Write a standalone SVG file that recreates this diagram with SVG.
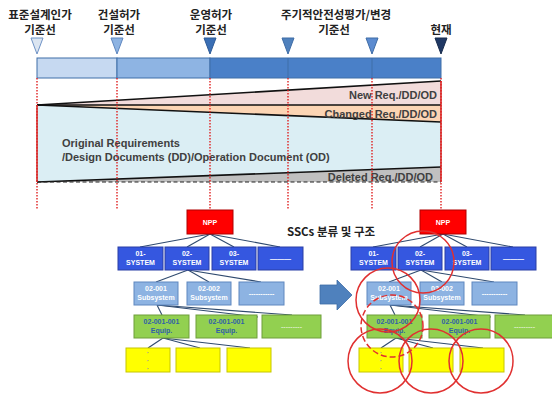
<svg xmlns="http://www.w3.org/2000/svg" width="552" height="396" viewBox="0 0 552 396">
<style>
.kt{font-family:"Noto Sans CJK KR","Noto Sans",sans-serif;font-weight:bold;font-size:11.5px;fill:#222;text-anchor:middle}
.wt{font-family:"Liberation Sans",Arial,sans-serif;font-weight:bold;font-size:11px;fill:#404040}
.r{text-anchor:end}
.dot{stroke:#e02020;stroke-width:1.4;stroke-dasharray:1.6 1.4;fill:none}
.bl{stroke:#111;stroke-width:1.6;fill:none}
.sys rect{fill:#3557e0;stroke:#2a3fa5;stroke-width:1}
.sub rect{fill:#8db3e2;stroke:#5f87bf;stroke-width:1}
.eq rect{fill:#92d050;stroke:#6e9e3a;stroke-width:1}
.yl rect{fill:#ffff00;stroke:#c6c600;stroke-width:1}
.npp rect{fill:#ff0000;stroke:#b00000;stroke-width:1}
.bt{font-family:"Liberation Sans",Arial,sans-serif;font-size:7px;fill:#fff;text-anchor:middle;font-weight:bold}
.gt{font-family:"Liberation Sans",Arial,sans-serif;font-size:7px;fill:#2f5fa8;text-anchor:middle;font-weight:bold}
.con line{stroke:#2f4a6e;stroke-width:1.1}
.circ{fill:none;stroke:#e03030;stroke-width:1.5}
</style>

<!-- timeline labels -->
<g id="labels">
<text class="kt" x="40" y="19">표준설계인가</text><text class="kt" x="40" y="34">기준선</text>
<text class="kt" x="119" y="19">건설허가</text><text class="kt" x="119" y="34">기준선</text>
<text class="kt" x="211" y="19">운영허가</text><text class="kt" x="211" y="34">기준선</text>
<text class="kt" x="336" y="19">주기적안전성평가/변경</text><text class="kt" x="334" y="34">기준선</text>
<text class="kt" x="441" y="34">현재</text>
</g>

<!-- markers -->
<g id="markers" stroke-width="1">
<polygon points="31,38 43,38 37,54" fill="#dbe5f1" stroke="#6f93c6"/>
<polygon points="111,38 123,38 117,54" fill="#8db3e2" stroke="#5f87bf"/>
<polygon points="204,38 216,38 210,54" fill="#3a6fb5" stroke="#2d5a96"/>
<polygon points="282,38 294,38 288,54" fill="#4f81bd" stroke="#3e6ca6"/>
<polygon points="366,38 378,38 372,54" fill="#5b8bd0" stroke="#3e6ca6"/>
<polygon points="435,38 447,38 441,54" fill="#1f3864" stroke="#172a4b"/>
</g>

<!-- timeline bar -->
<g id="bar" stroke="#3f6ea8" stroke-width="1">
<rect x="37" y="58" width="80" height="20" fill="#c6d9f1"/>
<rect x="117" y="58" width="93" height="20" fill="#8eb4e3"/>
<rect x="210" y="58" width="231" height="20" fill="#4a80c8"/>
<line x1="288" y1="58" x2="288" y2="78"/>
<line x1="372" y1="58" x2="372" y2="78"/>
</g>

<!-- wedge chart -->
<g id="wedge">
<polygon points="37,182 37,105 441,122 441,167" fill="#dbeef4"/>
<polygon points="37,105 441,81 441,105" fill="#f2dcdb"/>
<polygon points="37,105 441,105 441,122" fill="#fcd5b4"/>
<polygon points="37,182 441,167 441,182" fill="#c0c0c0"/>
<line class="bl" x1="37" y1="105" x2="441" y2="81"/>
<line class="bl" x1="37" y1="105" x2="441" y2="105"/>
<line class="bl" x1="37" y1="105" x2="441" y2="122"/>
<line class="bl" x1="37" y1="182" x2="441" y2="167"/>
<line x1="37" y1="182" x2="441" y2="182" stroke="#222" stroke-width="1.2" stroke-dasharray="4 2.5"/>
<line x1="37" y1="105" x2="37" y2="182" stroke="#d02020" stroke-width="1.5"/>
<line x1="441" y1="81" x2="441" y2="182" stroke="#d02020" stroke-width="1.5"/>
<text class="wt r" x="437" y="99">New Req./DD/OD</text>
<text class="wt r" x="437" y="118">Changed Req./DD/OD</text>
<text class="wt" x="62" y="147">Original Requirements</text>
<text class="wt" x="62" y="161">/Design Documents (DD)/Operation Document (OD)</text>
<text class="wt r" x="433" y="181">Deleted Req./DD/OD</text>
</g>

<!-- dotted guide lines -->
<g id="guides">
<line class="dot" x1="37" y1="78" x2="37" y2="210"/>
<line class="dot" x1="117" y1="78" x2="117" y2="210"/>
<line class="dot" x1="210" y1="78" x2="210" y2="210"/>
<line class="dot" x1="288" y1="78" x2="288" y2="210"/>
<line class="dot" x1="372" y1="78" x2="372" y2="210"/>
<line class="dot" x1="441" y1="78" x2="441" y2="210"/>
</g>

<text id="ssc-title" class="kt" x="331" y="236">SSCs 분류 및 구조</text>

<!-- connectors -->
<g id="connectors" class="con">
<line x1="210" y1="234" x2="140" y2="247"/>
<line x1="210" y1="234" x2="187" y2="247"/>
<line x1="210" y1="234" x2="234" y2="247"/>
<line x1="210" y1="234" x2="280" y2="247"/>
<line x1="188" y1="270" x2="156" y2="282"/>
<line x1="188" y1="270" x2="209" y2="282"/>
<line x1="188" y1="270" x2="261" y2="282"/>
<line x1="157" y1="305" x2="162" y2="315"/>
<line x1="157" y1="305" x2="258" y2="317"/>
<line x1="157" y1="305" x2="292" y2="315"/>
<line x1="163" y1="338" x2="148" y2="348"/>
<line x1="163" y1="338" x2="200" y2="348"/>
<line x1="163" y1="338" x2="250" y2="348"/>
<line x1="443" y1="234" x2="373" y2="247"/>
<line x1="443" y1="234" x2="420" y2="247"/>
<line x1="443" y1="234" x2="467" y2="247"/>
<line x1="443" y1="234" x2="513" y2="247"/>
<line x1="421" y1="270" x2="389" y2="282"/>
<line x1="421" y1="270" x2="442" y2="282"/>
<line x1="421" y1="270" x2="494" y2="282"/>
<line x1="390" y1="305" x2="395" y2="315"/>
<line x1="390" y1="305" x2="491" y2="317"/>
<line x1="390" y1="305" x2="525" y2="315"/>
<line x1="396" y1="338" x2="381" y2="348"/>
<line x1="396" y1="338" x2="433" y2="348"/>
<line x1="396" y1="338" x2="483" y2="348"/>
</g>

<!-- left tree nodes -->
<g id="L-npp" class="npp"><rect x="187" y="210" width="46" height="24"/><text class="bt" x="210" y="225">NPP</text></g>
<g id="L-sys01" class="sys"><rect x="118" y="247" width="45" height="23"/><text class="bt" x="140.5" y="256">01-</text><text class="bt" x="140.5" y="265">SYSTEM</text></g>
<g id="L-sys02" class="sys"><rect x="165" y="247" width="44" height="23"/><text class="bt" x="187" y="256">02-</text><text class="bt" x="187" y="265">SYSTEM</text></g>
<g id="L-sys03" class="sys"><rect x="212" y="247" width="44" height="23"/><text class="bt" x="234" y="256">03-</text><text class="bt" x="234" y="265">SYSTEM</text></g>
<g id="L-sys04" class="sys"><rect x="258" y="247" width="45" height="23"/><text class="bt" x="280.5" y="261">———</text></g>
<g id="L-sub01" class="sub"><rect x="134" y="282" width="44" height="23"/><text class="bt" x="156" y="291">02-001</text><text class="bt" x="156" y="300">Subsystem</text></g>
<g id="L-sub02" class="sub"><rect x="187" y="282" width="44" height="23"/><text class="bt" x="209" y="291">02-002</text><text class="bt" x="209" y="300">Subsystem</text></g>
<g id="L-sub03" class="sub"><rect x="239" y="282" width="45" height="23"/><text class="bt" x="261.5" y="296">-----------</text></g>
<g id="L-eq01" class="eq"><rect x="134" y="315" width="55" height="23"/><text class="gt" x="161.5" y="324">02-001-001</text><text class="gt" x="161.5" y="333">Equip.</text></g>
<g id="L-eq02" class="eq"><rect x="196" y="315" width="61" height="23"/><text class="gt" x="226.5" y="324">02-001-001</text><text class="gt" x="226.5" y="333">Equip.</text></g>
<g id="L-eq03" class="eq"><rect x="262" y="315" width="59" height="23"/><text class="bt" x="291.5" y="329" style="fill:#d8ecc0">---------</text></g>
<g id="L-y01" class="yl"><rect x="126" y="348" width="44" height="24"/><text class="bt" x="148" y="355" style="fill:#999">·</text><text class="bt" x="148" y="363" style="fill:#999">·</text><text class="bt" x="148" y="371" style="fill:#999">·</text></g>
<g id="L-y02" class="yl"><rect x="176" y="348" width="44" height="24"/></g>
<g id="L-y03" class="yl"><rect x="227" y="348" width="44" height="24"/></g>

<!-- arrow -->
<g id="arrow"><polygon points="320,285 337,285 337,280 352,295 337,310 337,304 320,304" fill="#4f81bd" stroke="#3e6ca6" stroke-width="0.8"/></g>

<!-- right tree nodes -->
<g id="R-npp" class="npp"><rect x="420" y="210" width="46" height="24"/><text class="bt" x="443" y="225">NPP</text></g>
<g id="R-sys01" class="sys"><rect x="351" y="247" width="45" height="23"/><text class="bt" x="373.5" y="256">01-</text><text class="bt" x="373.5" y="265">SYSTEM</text></g>
<g id="R-sys02" class="sys"><rect x="398" y="247" width="44" height="23"/><text class="bt" x="420" y="256">02-</text><text class="bt" x="420" y="265">SYSTEM</text></g>
<g id="R-sys03" class="sys"><rect x="445" y="247" width="44" height="23"/><text class="bt" x="467" y="256">03-</text><text class="bt" x="467" y="265">SYSTEM</text></g>
<g id="R-sys04" class="sys"><rect x="491" y="247" width="45" height="23"/><text class="bt" x="513.5" y="261">———</text></g>
<g id="R-sub01" class="sub"><rect x="367" y="282" width="44" height="23"/><text class="bt" x="389" y="291">02-001</text><text class="bt" x="389" y="300">Subsystem</text></g>
<g id="R-sub02" class="sub"><rect x="420" y="282" width="44" height="23"/><text class="bt" x="442" y="291">02-002</text><text class="bt" x="442" y="300">Subsystem</text></g>
<g id="R-sub03" class="sub"><rect x="472" y="282" width="45" height="23"/><text class="bt" x="494.5" y="296">-----------</text></g>
<g id="R-eq01" class="eq"><rect x="367" y="315" width="55" height="23"/><text class="gt" x="394.5" y="324">02-001-001</text><text class="gt" x="394.5" y="333">Equip.</text></g>
<g id="R-eq02" class="eq"><rect x="429" y="315" width="61" height="23"/><text class="gt" x="459.5" y="324">02-001-001</text><text class="gt" x="459.5" y="333">Equip.</text></g>
<g id="R-eq03" class="eq"><rect x="495" y="315" width="59" height="23"/><text class="bt" x="524.5" y="329" style="fill:#d8ecc0">---------</text></g>
<g id="R-y01" class="yl"><rect x="359" y="348" width="44" height="24"/><text class="bt" x="381" y="355" style="fill:#999">·</text><text class="bt" x="381" y="363" style="fill:#999">·</text><text class="bt" x="381" y="371" style="fill:#999">·</text></g>
<g id="R-y02" class="yl"><rect x="409" y="348" width="44" height="24"/></g>
<g id="R-y03" class="yl"><rect x="460" y="348" width="44" height="24"/></g>

<!-- highlight circles -->
<g id="circles">
<circle class="circ" cx="423" cy="262" r="31"/>
<circle class="circ" cx="388" cy="300" r="32"/>
<circle class="circ" cx="392" cy="326" r="31" stroke-width="2" stroke-dasharray="6 3"/>
<circle class="circ" cx="380" cy="361" r="32"/>
<circle class="circ" cx="431" cy="361" r="32"/>
<circle class="circ" cx="481" cy="361" r="32"/>
</g>
</svg>
